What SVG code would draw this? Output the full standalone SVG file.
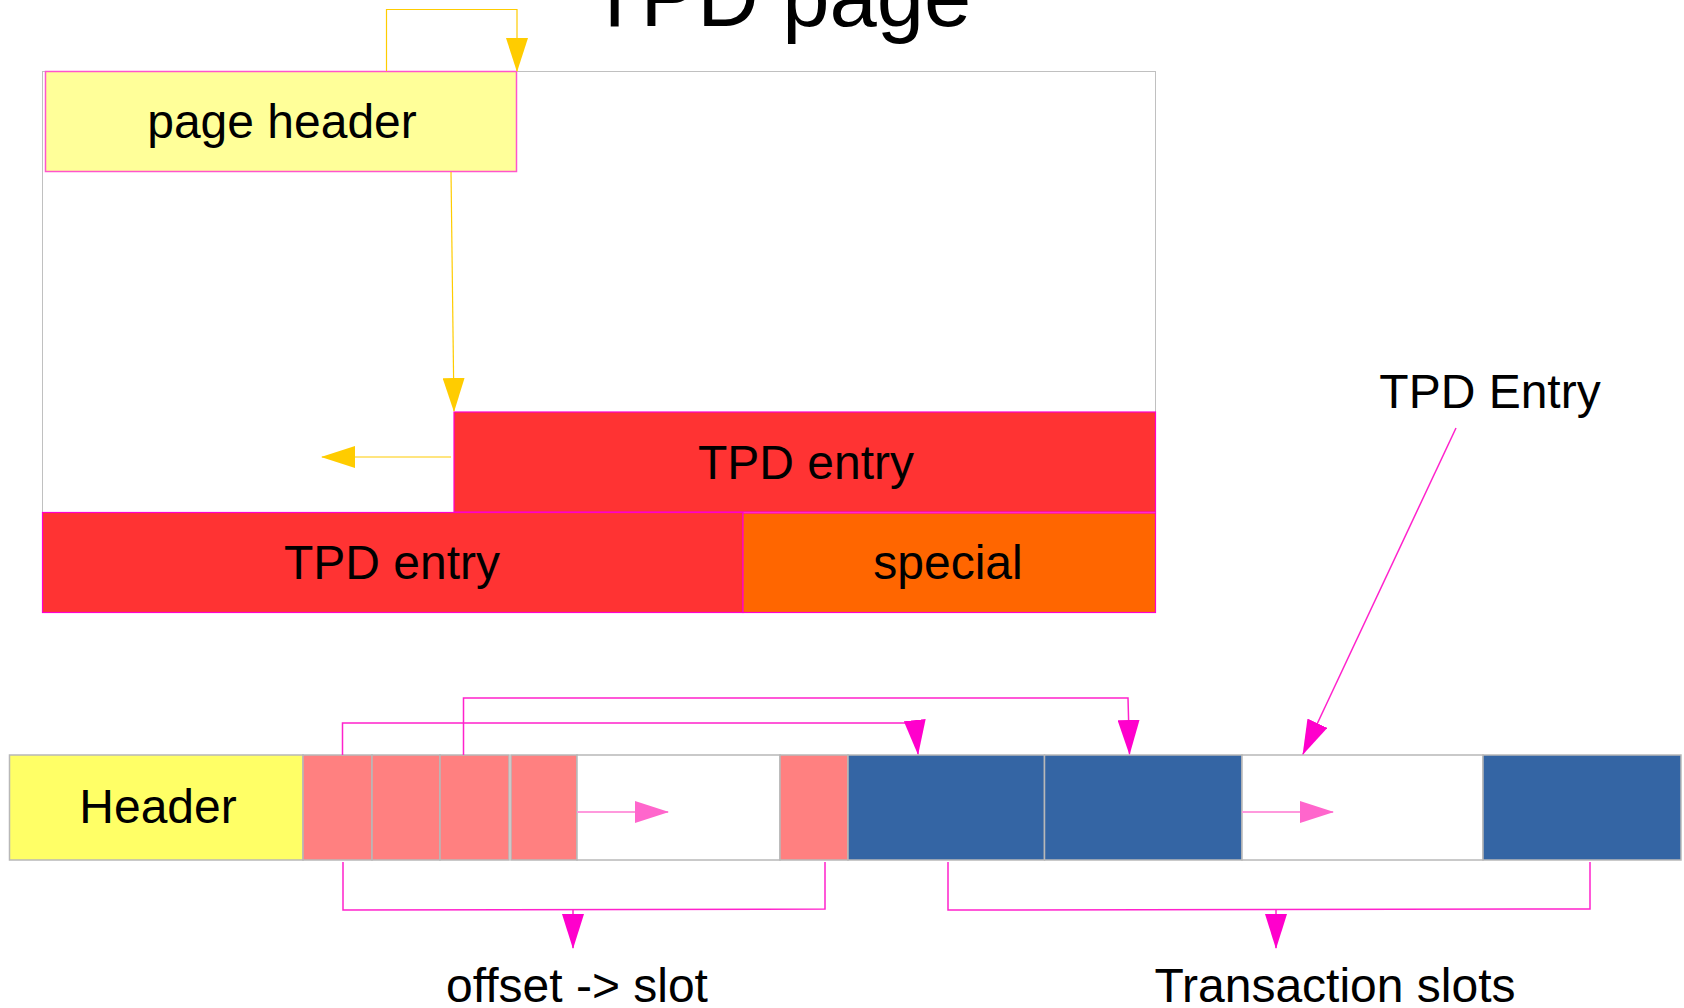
<svg xmlns="http://www.w3.org/2000/svg" width="1684" height="1008" viewBox="0 0 1684 1008">
  <style>
    text { font-family: "Liberation Sans", Arial, sans-serif; fill: #000; }
    .lbl { font-size: 48px; text-anchor: middle; }
    .title { font-size: 85px; text-anchor: middle; }
    .page { fill: #fff; stroke: #c0c0c0; stroke-width: 1; }
    .tpd { fill: #ff3333; stroke: #ff00cc; stroke-width: 1.2; }
    .spec { fill: #ff6600; stroke: #ff00cc; stroke-width: 1.2; }
    .phdr { fill: #ffff99; stroke: #ff55cc; stroke-width: 1.5; }
    .cell { stroke: #b8b8b8; stroke-width: 1.5; }
    .hdr { fill: #ffff66; }
    .off { fill: #ff8080; }
    .slot { fill: #3465a4; }
    .free { fill: #fff; }
    .ylw { fill: none; stroke: #ffcc00; stroke-width: 1.2; }
    .mag { fill: none; stroke: #ff22cc; stroke-width: 1.5; }
    .pnk { fill: none; stroke: #ff99dd; stroke-width: 2; }
  </style>
  <defs>
    <marker id="arrY" markerUnits="userSpaceOnUse" markerWidth="34" markerHeight="22" refX="33" refY="11" orient="auto">
      <path d="M0,0 L34,11 L0,22 z" fill="#ffcc00"/>
    </marker>
    <marker id="arrM" markerUnits="userSpaceOnUse" markerWidth="35" markerHeight="22" refX="34" refY="11" orient="auto">
      <path d="M0,0 L35,11 L0,22 z" fill="#ff00cc"/>
    </marker>
    <marker id="arrP" markerUnits="userSpaceOnUse" markerWidth="34" markerHeight="22" refX="33" refY="11" orient="auto">
      <path d="M0,0 L34,11 L0,22 z" fill="#ff66cc"/>
    </marker>
  </defs>

  <!-- title -->
  <text class="title" x="780" y="26">TPD page</text>

  <!-- page frame -->
  <g id="page">
    <rect class="page" x="42.5" y="71.5" width="1113" height="541"/>
  </g>

  <g id="page-header">
    <rect class="phdr" x="45.5" y="71.5" width="471" height="100"/>
    <text class="lbl" x="282" y="138">page header</text>
  </g>

  <g id="tpd-entry-upper">
    <rect class="tpd" x="454" y="412" width="701.5" height="100"/>
    <text class="lbl" x="806" y="479">TPD entry</text>
  </g>

  <g id="tpd-entry-lower">
    <rect class="tpd" x="42.5" y="512.5" width="700.5" height="100"/>
    <text class="lbl" x="392" y="579">TPD entry</text>
  </g>

  <g id="special">
    <rect class="spec" x="743" y="513" width="412.5" height="99.5"/>
    <text class="lbl" x="948" y="579">special</text>
  </g>

  <!-- bottom row: header, offset cells, free space, transaction slots -->
  <g id="row-header">
    <rect class="cell hdr" x="9.5" y="755" width="293.5" height="105"/>
    <text class="lbl" x="158" y="823">Header</text>
  </g>
  <g id="offset-1"><rect class="cell off" x="303" y="755" width="69" height="105"/></g>
  <g id="offset-2"><rect class="cell off" x="372" y="755" width="68" height="105"/></g>
  <g id="offset-3"><rect class="cell off" x="440" y="755" width="69" height="105"/></g>
  <g id="offset-4"><rect class="cell off" x="511" y="755" width="66" height="105"/></g>
  <g id="offset-free"><rect class="cell free" x="577" y="755" width="203" height="105"/></g>
  <g id="offset-5"><rect class="cell off" x="780" y="755" width="68" height="105"/></g>
  <g id="slot-1"><rect class="cell slot" x="848" y="755" width="196.5" height="105"/></g>
  <g id="slot-2"><rect class="cell slot" x="1044.5" y="755" width="197.5" height="105"/></g>
  <g id="slot-free"><rect class="cell free" x="1242" y="755" width="241" height="105"/></g>
  <g id="slot-3"><rect class="cell slot" x="1483" y="755" width="198" height="105"/></g>

  <g id="caption-tpd-entry">
    <text class="lbl" x="1490" y="408">TPD Entry</text>
  </g>
  <g id="caption-offset">
    <text class="lbl" x="577" y="1002">offset -&gt; slot</text>
  </g>
  <g id="caption-slots">
    <text class="lbl" x="1335" y="1002">Transaction slots</text>
  </g>

  <g id="connectors">
    <!-- page layout arrows -->
    <path class="ylw" d="M386.5,71 V9.5 H517 V71" marker-end="url(#arrY)"/>
    <path class="ylw" d="M451,172 L454,411" marker-end="url(#arrY)"/>
    <path class="ylw" d="M451,457 L322,457" marker-end="url(#arrY)"/>

    <!-- offsets pointing at transaction slots -->
    <path class="mag" d="M342.5,755 V723 H915 L918,754" marker-end="url(#arrM)"/>
    <path class="mag" d="M463.5,755 V698 H1128 L1129.5,754" marker-end="url(#arrM)"/>
    <path class="mag" d="M1456,428 L1303,754" marker-end="url(#arrM)"/>

    <!-- growth direction inside free areas -->
    <path class="pnk" d="M577,812 H668" marker-end="url(#arrP)"/>
    <path class="pnk" d="M1242,812 H1333" marker-end="url(#arrP)"/>

    <!-- brackets -->
    <path class="mag" d="M343,862 V910 L825,909 V862"/>
    <path class="mag" d="M573,910 V948" marker-end="url(#arrM)"/>
    <path class="mag" d="M948,862 V910 L1590,909 V862"/>
    <path class="mag" d="M1276,910 V948" marker-end="url(#arrM)"/>
  </g>
</svg>
